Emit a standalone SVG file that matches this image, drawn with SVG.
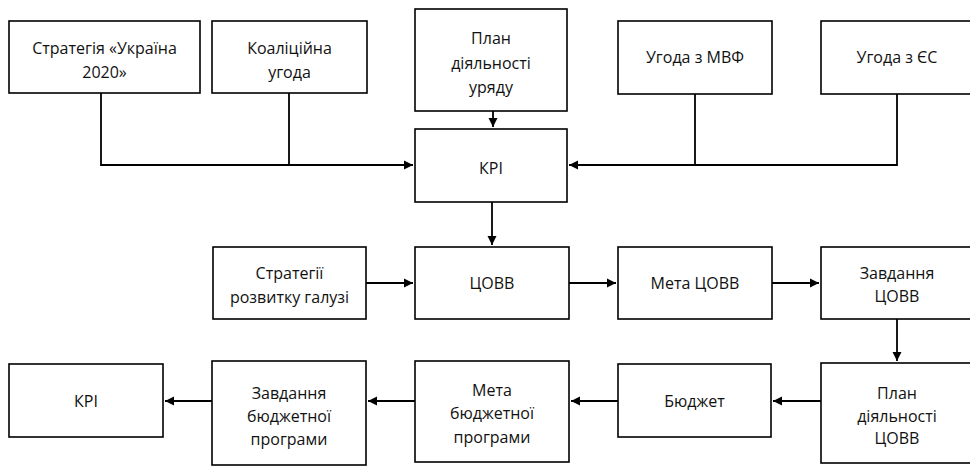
<svg xmlns="http://www.w3.org/2000/svg" width="970" height="466" viewBox="0 0 970 466">
<style>
rect{fill:#fff;stroke:#000;stroke-width:1.6}
rect.bg{stroke:none}
text{font-family:"Open Sans","Liberation Sans",sans-serif;font-size:16px;fill:#111;text-anchor:middle}
.c path{fill:none;stroke:#000;stroke-width:1.8}
</style>
<defs>
<marker id="a" markerUnits="userSpaceOnUse" markerWidth="10" markerHeight="10" refX="9" refY="5" orient="auto">
<path d="M0,0.5 L9,5 L0,9.5 Z" fill="#000"/>
</marker>
</defs>
<rect class="bg" width="970" height="466"/>
<g class="c">
<path d="M101,93 V165 H413" marker-end="url(#a)"/>
<path d="M289,93 V165"/>
<path d="M493,111 V127" marker-end="url(#a)"/>
<path d="M897,94 V165 H569" marker-end="url(#a)"/>
<path d="M695,94 V165"/>
<path d="M492,202 V245" marker-end="url(#a)"/>
<path d="M366,283 H413" marker-end="url(#a)"/>
<path d="M569,283 H616" marker-end="url(#a)"/>
<path d="M772,283 H819" marker-end="url(#a)"/>
<path d="M897,319 V361" marker-end="url(#a)"/>
<path d="M821,401 H773" marker-end="url(#a)"/>
<path d="M618,401 H571" marker-end="url(#a)"/>
<path d="M415,401 H368" marker-end="url(#a)"/>
<path d="M212,401 H165" marker-end="url(#a)"/>
</g>
<g id="n1"><rect x="9" y="21" width="191" height="72"/><text x="104.5" y="54">Стратегія «Україна</text><text x="104.5" y="78">2020»</text></g>
<g id="n2"><rect x="212" y="21" width="155" height="72"/><text x="289.5" y="54">Коаліційна</text><text x="289.5" y="78">угода</text></g>
<g id="n3"><rect x="415" y="9" width="152" height="102"/><text x="491" y="44">План</text><text x="491" y="68.5">діяльності</text><text x="491" y="93">уряду</text></g>
<g id="n4"><rect x="618" y="21" width="154" height="73"/><text x="695" y="63">Угода з МВФ</text></g>
<g id="n5"><rect x="821" y="21" width="154" height="73"/><text x="897" y="63">Угода з ЄС</text></g>
<g id="n6"><rect x="415" y="129" width="152" height="73"/><text x="491" y="174">КРІ</text></g>
<g id="n7"><rect x="213" y="247" width="153" height="72"/><text x="289.5" y="279">Стратегії</text><text x="289.5" y="303">розвитку галузі</text></g>
<g id="n8"><rect x="415" y="247" width="154" height="72"/><text x="492" y="289">ЦОВВ</text></g>
<g id="n9"><rect x="618" y="247" width="154" height="72"/><text x="695" y="289">Мета ЦОВВ</text></g>
<g id="n10"><rect x="821" y="247" width="154" height="72"/><text x="897" y="279">Завдання</text><text x="897" y="302">ЦОВВ</text></g>
<g id="n11"><rect x="821" y="363" width="154" height="100"/><text x="897" y="399">План</text><text x="897" y="422">діяльності</text><text x="897" y="444">ЦОВВ</text></g>
<g id="n12"><rect x="618" y="364" width="153" height="73"/><text x="694.5" y="407">Бюджет</text></g>
<g id="n13"><rect x="415" y="361" width="154" height="101"/><text x="492" y="396">Мета</text><text x="492" y="419">бюджетної</text><text x="492" y="443">програми</text></g>
<g id="n14"><rect x="212" y="361" width="154" height="104"/><text x="289" y="399">Завдання</text><text x="289" y="422">бюджетної</text><text x="289" y="445">програми</text></g>
<g id="n15"><rect x="9" y="364" width="154" height="73"/><text x="86" y="407">КРІ</text></g>
</svg>
